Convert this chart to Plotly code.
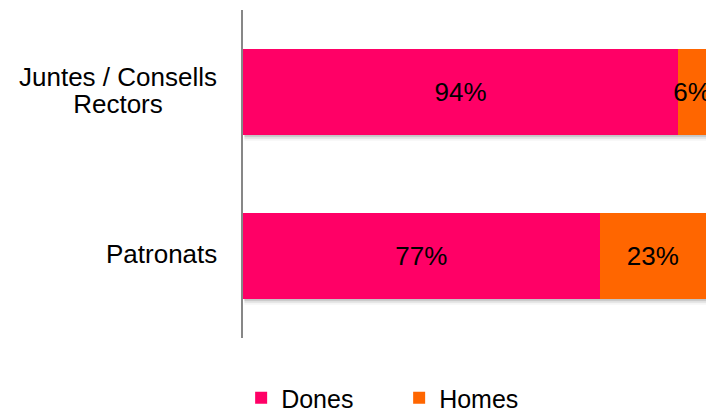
import plotly.graph_objects as go

categories = ["Juntes / Consells<br>Rectors", "Patronats"]
dones = [94, 77]
homes = [6, 23]
series_names = ["Dones", "Homes"]
colors = ["#FF0066", "#FF6600"]

font = "Liberation Sans, Arial, sans-serif"
FS = 26
ypos = list(range(len(categories)))

fig = go.Figure()
for name, vals, col in zip(series_names, [dones, homes], colors):
    fig.add_trace(go.Bar(
        y=ypos, x=vals, name=name, orientation="h",
        marker=dict(color=col, line=dict(width=0)),
        text=[f"{v}%" for v in vals], textposition="inside", textangle=0,
        insidetextanchor="middle", constraintext="none",
        textfont=dict(color="black", size=FS, family=font),
        hoverinfo="skip",
    ))

bargap = 0.48
half = (1 - bargap) / 2

# subtle shadow below each bar
shapes = []
for i, (d, h) in enumerate(zip(dones, homes)):
    for k, alpha in enumerate([0.13, 0.08, 0.04]):
        shapes.append(dict(type="rect", xref="x", yref="y", layer="below",
                           x0=0.3, x1=d + h + 0.3, ysizemode="pixel", yanchor=i + half,
                           y0=0, y1=-(k + 1) * 2,
                           line=dict(width=0), fillcolor=f"rgba(0,0,0,{alpha})"))

# category labels: centered lines, tight line spacing (line height from base font)
for i, c in enumerate(categories):
    txt = "<br>".join(f"<span style='font-size:{FS}px'>{ln}</span>" for ln in c.split("<br>"))
    fig.add_annotation(x=0, xref="paper", y=i, yref="y", text=txt,
                       xanchor="right", xshift=-24, yshift=2,
                       align="center", showarrow=False,
                       font=dict(size=20.8, color="black", family=font))

fig.update_layout(
    barmode="stack", bargap=bargap,
    width=711, height=412,
    margin=dict(l=243, r=5, t=10, b=74, autoexpand=False),
    plot_bgcolor="white", paper_bgcolor="white",
    font=dict(family=font, size=FS, color="black"),
    uniformtext=dict(minsize=FS, mode="show"),
    showlegend=True,
    shapes=shapes,
    legend=dict(orientation="h", xanchor="left", x=-0.004, yanchor="middle", y=-0.183,
                font=dict(size=25, family=font, color="black"),
                entrywidth=113, itemwidth=30, traceorder="normal"),
    xaxis=dict(range=[0, 100], visible=False, fixedrange=True),
    yaxis=dict(range=[1.5, -0.5], showticklabels=False, showgrid=False, zeroline=False,
               showline=True, linecolor="#878787", linewidth=2, ticks=""),
)

fig.write_html("out.html", config={"displayModeBar": False},
               post_script="document.body.style.margin='0px';document.body.style.overflow='hidden';")
